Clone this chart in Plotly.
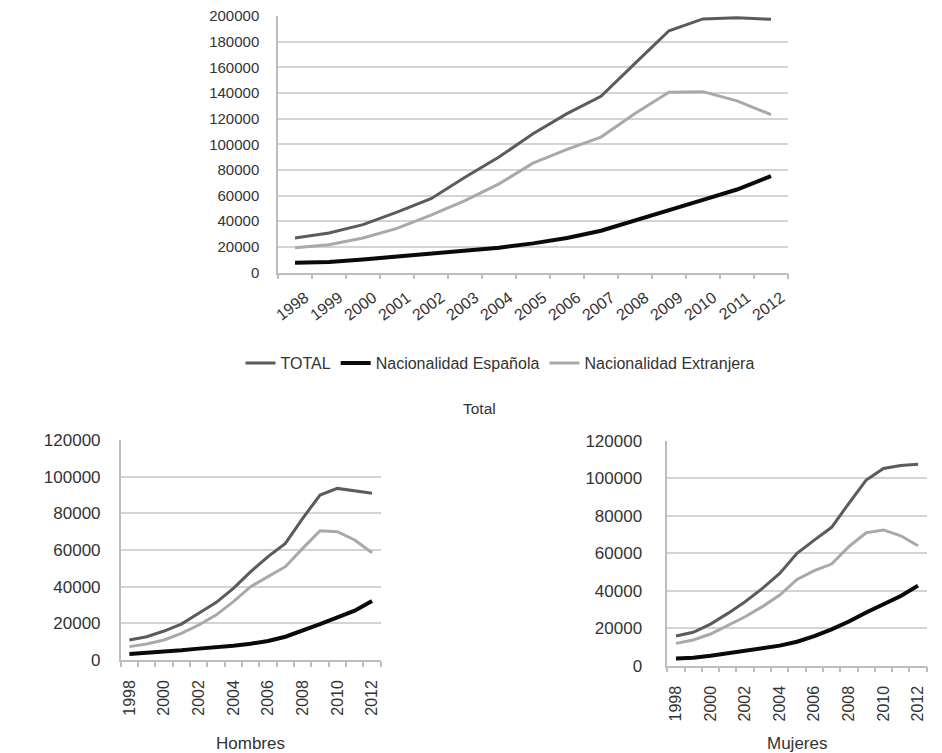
import plotly.graph_objects as go

# Años del periodo
years = [1998, 1999, 2000, 2001, 2002, 2003, 2004, 2005, 2006, 2007, 2008, 2009, 2010, 2011, 2012]

# Total (ambos sexos)
total_total = [26900, 30800, 37300, 47000, 57500, 74300, 90000, 108200, 123900, 137400, 163000, 188500, 197700, 198700, 197400]
total_esp = [7600, 8100, 10200, 12500, 14300, 16700, 19300, 22700, 26900, 32600, 40400, 48800, 56600, 64700, 75100]
total_ext = [19300, 21600, 26900, 34400, 44800, 56100, 69100, 85300, 96000, 105600, 123900, 140500, 141000, 133800, 123100]

# Hombres
hom_total = [10900, 12700, 15800, 19600, 25500, 31300, 39100, 48200, 56400, 63600, 77300, 90000, 93600, 92400, 90900]
hom_esp = [3300, 3800, 4500, 5300, 6200, 6900, 7800, 8900, 10400, 12700, 16000, 19600, 23300, 26900, 32200]
hom_ext = [7300, 8700, 10900, 14500, 19100, 24500, 31800, 40000, 45500, 50900, 60900, 70500, 70000, 65500, 58500]

# Mujeres
muj_total = [15800, 17800, 22200, 27900, 34100, 41200, 49200, 59900, 67000, 73800, 86600, 99000, 105200, 106800, 107400]
muj_esp = [3900, 4300, 5300, 6600, 8000, 9100, 10700, 12800, 15800, 19400, 23600, 28400, 32900, 37200, 42700]
muj_ext = [11900, 13700, 16900, 21700, 26100, 31500, 37700, 46000, 50700, 54200, 63500, 70900, 72400, 69300, 64000]

series_names = ["TOTAL", "Nacionalidad Española", "Nacionalidad Extranjera"]
colors = ["#5b5b5b", "#0a0a0a", "#a9a9a9"]
widths = [3, 4, 3]

FONT = "Liberation Sans, Arial, sans-serif"
TEXT = "#333333"
GRID = "#d4d4d4"
AXIS = "#bdbdbd"

W, H = 942, 753


def px_x(a, b):
    return [a / W, b / W]


def px_y(top, bottom):
    return [1 - bottom / H, 1 - top / H]


fig = go.Figure()

panels = [
    ("x", "y", [total_total, total_esp, total_ext], True),
    ("x2", "y2", [hom_total, hom_esp, hom_ext], False),
    ("x3", "y3", [muj_total, muj_esp, muj_ext], False),
]
for xa, ya, data, legend in panels:
    for name, vals, col, w in zip(series_names, data, colors, widths):
        fig.add_trace(go.Scatter(
            x=years, y=vals, mode="lines", name=name,
            line=dict(color=col, width=w),
            xaxis=xa, yaxis=ya, showlegend=legend,
        ))

boundaries = [y - 0.5 for y in years] + [years[-1] + 0.5]


def xaxis(domain, anchor, tickvals, angle, size, standoff, shift):
    return dict(
        domain=domain, anchor=anchor, range=[1997.5, 2012.5],
        tickvals=tickvals, ticktext=[str(v) for v in tickvals],
        tickangle=angle, ticks="", showgrid=False, zeroline=False,
        showline=True, linecolor=AXIS, linewidth=1.5,
        ticklabelstandoff=standoff, ticklabelshift=shift,
        tickfont=dict(family=FONT, size=size, color=TEXT),
        minor=dict(tickvals=boundaries, ticks="outside", ticklen=5,
                   tickcolor=AXIS, tickwidth=1.5, showgrid=False),
        fixedrange=True,
    )


def yaxis(domain, anchor, rng, size, standoff):
    return dict(
        domain=domain, anchor=anchor, range=rng, dtick=20000,
        showgrid=True, gridcolor=GRID, gridwidth=1.5, zeroline=False,
        showline=True, linecolor=AXIS, linewidth=1.5,
        ticks="", tickformat="d", ticklabelstandoff=standoff,
        tickfont=dict(family=FONT, size=size, color=TEXT),
        fixedrange=True,
    )


fig.update_layout(
    width=W, height=H,
    margin=dict(l=0, r=0, t=0, b=0, autoexpand=False),
    paper_bgcolor="white", plot_bgcolor="white",
    font=dict(family=FONT, color=TEXT),
    xaxis=xaxis(px_x(278, 788), "y", years, -37, 16, 8, 10),
    yaxis=yaxis(px_y(16, 272.5), "x", [0, 200000], 15, 14),
    xaxis2=xaxis(px_x(120.7, 380.7), "y2", years[::2], -90, 16, 12, 0),
    yaxis2=yaxis(px_y(440, 660), "x2", [0, 120000], 17, 15),
    xaxis3=xaxis(px_x(667.3, 926.7), "y3", years[::2], -90, 16, 12, 0),
    yaxis3=yaxis(px_y(440.7, 665.7), "x3", [0, 120000], 17, 20),
    legend=dict(
        orientation="h", x=500 / W, y=1 - 363 / H, xanchor="center", yanchor="middle",
        font=dict(family=FONT, size=16, color=TEXT), bgcolor="rgba(0,0,0,0)",
    ),
    annotations=[
        dict(text="Total", x=479 / W, y=1 - 408 / H),
        dict(text="Hombres", x=250.7 / W, y=1 - 743 / H),
        dict(text="Mujeres", x=797 / W, y=1 - 743 / H),
    ],
)
fig.update_annotations(
    xref="paper", yref="paper", xanchor="center", yanchor="middle",
    showarrow=False, font=dict(family=FONT, size=16, color=TEXT),
)
fig.layout.annotations[0].font.size = 15.5
fig.layout.annotations[1].font.size = 17
fig.layout.annotations[2].font.size = 17

fig.write_html("out.html")
